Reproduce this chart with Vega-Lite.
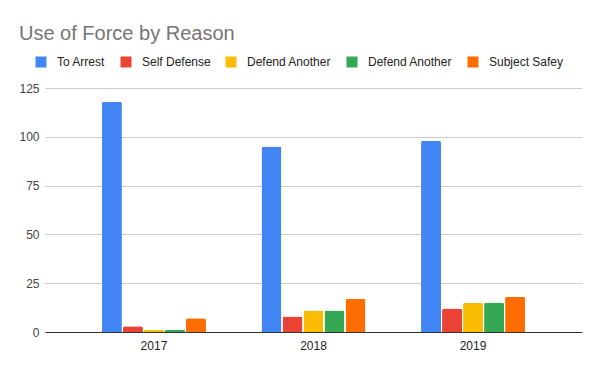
{
  "$schema": "https://vega.github.io/schema/vega-lite/v6.json",
  "width": 537,
  "height": 244,
  "autosize": {"type": "none"},
  "padding": {"left": 45, "top": 88, "right": 18, "bottom": 39},
  "background": "#ffffff",
  "title": {
    "text": "Use of Force by Reason",
    "anchor": "start",
    "frame": "group",
    "dx": -26,
    "dy": -8,
    "fontSize": 20,
    "fontWeight": "normal",
    "color": "#757575",
    "font": "Liberation Sans"
  },
  "config": {
    "view": {"stroke": null},
    "font": "Liberation Sans"
  },
  "data": {
    "values": [
      {"year": "2017", "s": "s1", "value": 118},
      {"year": "2017", "s": "s2", "value": 3},
      {"year": "2017", "s": "s3", "value": 1},
      {"year": "2017", "s": "s4", "value": 1},
      {"year": "2017", "s": "s5", "value": 7},
      {"year": "2018", "s": "s1", "value": 95},
      {"year": "2018", "s": "s2", "value": 8},
      {"year": "2018", "s": "s3", "value": 11},
      {"year": "2018", "s": "s4", "value": 11},
      {"year": "2018", "s": "s5", "value": 17},
      {"year": "2019", "s": "s1", "value": 98},
      {"year": "2019", "s": "s2", "value": 12},
      {"year": "2019", "s": "s3", "value": 15},
      {"year": "2019", "s": "s4", "value": 15},
      {"year": "2019", "s": "s5", "value": 18}
    ]
  },
  "mark": {"type": "bar", "cornerRadiusTopLeft": 2, "cornerRadiusTopRight": 2},
  "encoding": {
    "x": {
      "field": "year",
      "type": "nominal",
      "scale": {"paddingInner": 0.348, "paddingOuter": 0.357},
      "axis": {
        "title": null,
        "labelAngle": 0,
        "ticks": false,
        "domainColor": "#333333",
        "domainWidth": 1,
        "labelColor": "#222222",
        "labelFontSize": 12,
        "labelPadding": 8,
        "zindex": 1
      }
    },
    "xOffset": {
      "field": "s",
      "type": "nominal",
      "scale": {"paddingInner": 0.05}
    },
    "y": {
      "field": "value",
      "type": "quantitative",
      "scale": {"domain": [0, 125]},
      "axis": {
        "title": null,
        "values": [0, 25, 50, 75, 100, 125],
        "domain": false,
        "ticks": false,
        "gridColor": "#cccccc",
        "labelColor": "#444444",
        "labelFontSize": 12,
        "labelPadding": 6
      }
    },
    "color": {
      "field": "s",
      "type": "nominal",
      "scale": {
        "domain": ["s1", "s2", "s3", "s4", "s5"],
        "range": ["#4285F4", "#EA4335", "#FBBC04", "#34A853", "#FF6D01"]
      },
      "legend": {
        "title": null,
        "orient": "none",
        "legendX": -10,
        "legendY": -32,
        "direction": "horizontal",
        "symbolType": "square",
        "symbolSize": 121,
        "symbolStrokeWidth": 0,
        "labelFontSize": 12,
        "labelColor": "#222222",
        "labelOffset": 10,
        "columnPadding": 14,
        "padding": 0,
        "labelExpr": "datum.value === 's1' ? 'To Arrest' : datum.value === 's2' ? 'Self Defense' : datum.value === 's3' ? 'Defend Another' : datum.value === 's4' ? 'Defend Another' : 'Subject Safey'"
      }
    }
  }
}
